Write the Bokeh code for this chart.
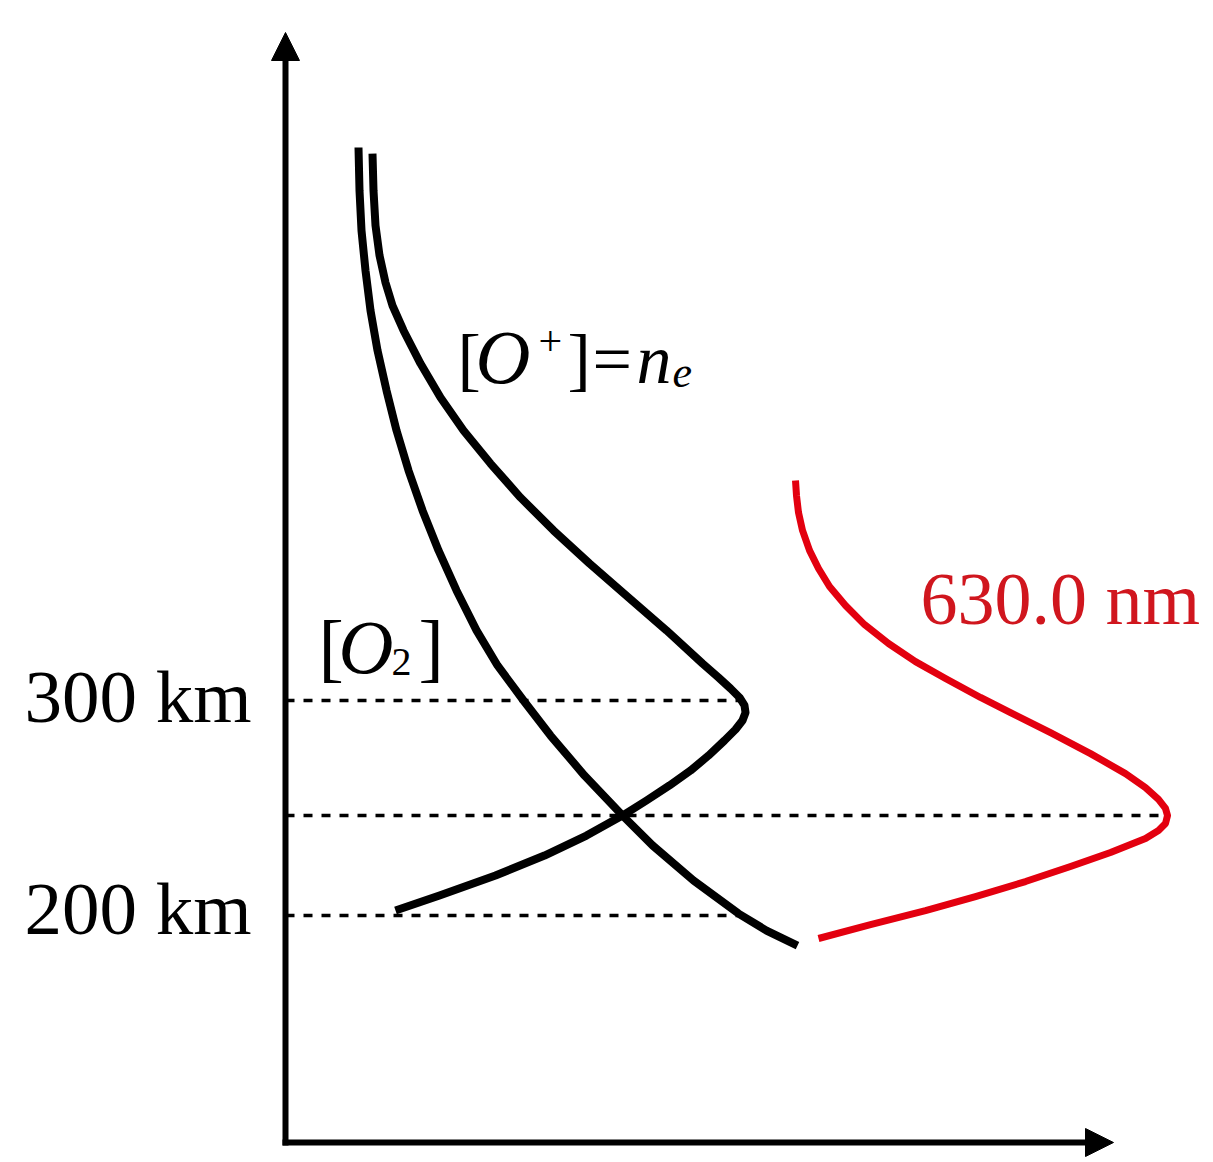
from bokeh.plotting import figure
from bokeh.models import Range1d, Arrow, NormalHead
from bokeh.core.properties import value
from bokeh.embed import file_html
from bokeh.resources import INLINE

# ---------------- data ----------------
# [O2] density profile (arbitrary units) vs altitude (km)
o2_density = [0.73, 0.74, 0.76, 0.80, 0.85, 0.92, 1.01, 1.11, 1.23, 1.37, 1.53, 1.71,
              1.91, 2.12, 2.38, 2.65, 2.99, 3.37, 3.67, 4.08, 4.53, 4.81, 5.12]
o2_alt = [557.2, 537.2, 518.6, 500.0, 481.4, 462.8, 444.2, 425.6, 407.0, 388.4, 369.8, 351.2,
          332.6, 316.3, 300.0, 283.7, 265.1, 246.5, 232.6, 216.3, 200.9, 193.0, 186.0]

# [O+] = n_e profile
oplus_density = [0.87, 0.88, 0.90, 0.94, 1.00, 1.07, 1.18, 1.35, 1.55, 1.78, 2.05, 2.35,
                 2.68, 3.04, 3.43, 3.81, 4.17, 4.33, 4.45, 4.54, 4.59, 4.60, 4.57, 4.50,
                 4.39, 4.23, 4.05, 3.84, 3.61, 3.37, 3.01, 2.59, 2.10, 1.54, 1.10]
oplus_alt = [554.4, 537.2, 520.9, 507.0, 494.4, 483.7, 472.1, 456.7, 440.9, 425.6, 410.2, 394.4,
             379.1, 363.7, 347.9, 332.6, 317.2, 310.7, 305.6, 301.4, 297.7, 294.4, 290.7, 286.5,
             281.4, 274.4, 267.4, 260.5, 253.5, 246.5, 237.2, 227.9, 218.6, 209.3, 202.3]

# 630.0 nm emission profile
red_intensity = [5.10, 5.11, 5.13, 5.17, 5.24, 5.33, 5.44, 5.60, 5.79, 6.03, 6.30, 6.60,
                 6.95, 7.25, 7.65, 8.05, 8.40, 8.60, 8.73, 8.80, 8.82, 8.80, 8.73, 8.60,
                 8.25, 7.85, 7.40, 6.90, 6.40, 5.85, 5.33]
red_alt = [402.3, 395.3, 387.4, 379.1, 369.8, 361.4, 353.0, 344.2, 335.3, 326.5, 318.1, 310.2,
           301.4, 294.4, 285.1, 275.3, 266.0, 259.5, 254.0, 249.8, 246.5, 242.8, 239.5, 235.8,
           229.3, 222.8, 215.8, 208.8, 202.3, 195.8, 189.3]

# horizontal reference lines (altitude, x-extent)
ref_alt = [300.0, 246.5, 200.0]
ref_extent = [4.57, 8.82, 4.58]

# tick labels on the altitude axis
tick_alt = [300.0, 200.0]
tick_labels = ["300 km", "200 km"]

# ---------------- geometry helpers (layout only) ----------------
W, H = 1213, 1162
def X(px):
    return (px - 285) / 100.0
def Y(py):
    return 300.0 + (700 - py) / 2.15

p = figure(width=W, height=H, x_range=Range1d(X(0), X(W)), y_range=Range1d(Y(H), Y(0)),
           x_axis_location=None, y_axis_location=None, toolbar_location=None,
           output_backend="svg", min_border=0, outline_line_color=None,
           background_fill_color="white", border_fill_color="white")
p.grid.visible = False

FONT = value("Liberation Serif")
BASE = 0.36  # baseline correction (em) for the svg text renderer

# dashed reference lines
p.segment(x0=[0.0] * len(ref_alt), y0=ref_alt, x1=ref_extent, y1=ref_alt,
          line_color="black", line_width=3.5, line_dash="9 9")

# curves
p.line(o2_density, o2_alt, line_color="black", line_width=8, line_join="round")
p.line(oplus_density, oplus_alt, line_color="black", line_width=8, line_join="round")
p.line(red_intensity, red_alt, line_color="#e3000f", line_width=7, line_join="round")

# axes with arrow heads
p.add_layout(Arrow(end=NormalHead(size=28, fill_color="black", line_color="black", line_width=1),
                   x_start=0.0, y_start=Y(1145), x_end=0.0, y_end=Y(32),
                   line_color="black", line_width=6))
p.add_layout(Arrow(end=NormalHead(size=28, fill_color="black", line_color="black", line_width=1),
                   x_start=X(282), y_start=Y(1142), x_end=X(1113), y_end=Y(1142),
                   line_color="black", line_width=6))

# tick labels
p.text(x=[X(251)] * len(tick_alt), y=[Y(723 - BASE * 75), Y(935 - BASE * 75)], text=tick_labels,
       text_font=FONT, text_font_size=value("75px"), text_align="right",
       text_baseline="alphabetic", text_color="black")

def piece(txt, px, py, size, italic=False, color="black"):
    p.text(x=[X(px)], y=[Y(py - BASE * size)], text=[txt], text_font=FONT,
           text_font_size=value(f"{size}px"), text_align="left",
           text_baseline="alphabetic", text_color=color,
           text_font_style="italic" if italic else "normal")

# [O2]
piece("[", 318, 674, 76)
piece("O", 338, 674, 76, italic=True)
piece("2", 391, 676, 40)
piece("]", 418, 674, 76)

# [O+]=n_e
piece("[", 457, 384, 70)
piece("O", 475, 384, 76, italic=True)
piece("+", 538, 356, 42)
piece("]", 567, 384, 70)
piece("=", 592, 384, 70)
piece("n", 636, 384, 70, italic=True)
piece("e", 672, 388, 44, italic=True)

# 630.0 nm
piece("630.0 nm", 920, 625, 74, color="#d0161e")

open("out.html", "w").write(file_html(p, INLINE))
